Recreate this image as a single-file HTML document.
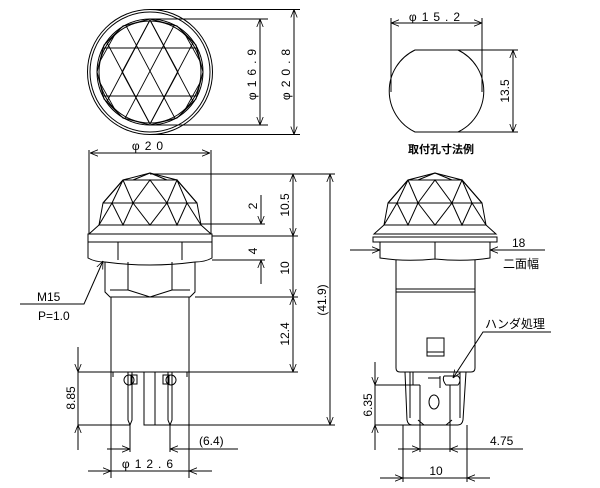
<!DOCTYPE html>
<html><head><meta charset="utf-8"><style>
html,body{margin:0;padding:0;background:#fff;width:600px;height:488px;overflow:hidden}
svg{display:block}
text{font-family:"Liberation Sans","Noto Sans CJK JP",sans-serif;fill:#000}
</style></head><body>
<svg width="600" height="488" viewBox="0 0 600 488" xmlns="http://www.w3.org/2000/svg">
<defs>
<clipPath id="c1"><polygon points="150,19 177,26 196,45 203,72 196,99 177,118 150,125 123,118 104,99 97,72 104,45 123,26"/></clipPath>
<marker id="a" viewBox="0 0 10 10" refX="10" refY="5" markerWidth="8" markerHeight="8" orient="auto-start-reverse" markerUnits="userSpaceOnUse"><path d="M0,1 L10,5 L0,9" fill="none" stroke="#000" stroke-width="1"/></marker>
</defs>
<g fill="none" stroke="#000" stroke-width="1">
<!-- top view -->
<circle cx="150" cy="72" r="62.5"/>
<circle cx="150" cy="72" r="60"/>
<circle cx="150" cy="72" r="53"/>
<circle cx="150" cy="72" r="51"/>
<polygon points="150,19 177,26 196,45 203,72 196,99 177,118 150,125 123,118 104,99 97,72 104,45 123,26"/>
<g clip-path="url(#c1)" stroke-width="0.9">
<line x1="90" y1="48" x2="210" y2="48"/><line x1="90" y1="96" x2="210" y2="96"/>
<line x1="150" y1="20" x2="178" y2="72"/><line x1="150" y1="20" x2="122" y2="72"/>
<line x1="122" y1="72" x2="150" y2="124"/><line x1="178" y1="72" x2="150" y2="124"/>
<line x1="123" y1="20" x2="94" y2="72"/><line x1="177" y1="20" x2="206" y2="72"/>
<line x1="94" y1="72" x2="123" y2="124"/><line x1="206" y1="72" x2="177" y2="124"/>
<line x1="123" y1="20" x2="178" y2="124"/><line x1="177" y1="20" x2="122" y2="124"/>
<line x1="95" y1="20" x2="150" y2="124"/><line x1="205" y1="20" x2="150" y2="124"/>
<line x1="150" y1="20" x2="95" y2="124"/><line x1="150" y1="20" x2="205" y2="124"/>
</g>
<line x1="150" y1="19" x2="268" y2="19"/><line x1="150" y1="125" x2="268" y2="125"/>
<line x1="150" y1="9.5" x2="300" y2="9.5"/><line x1="150" y1="134.5" x2="300" y2="134.5"/>
<line x1="260" y1="19" x2="260" y2="125" marker-start="url(#a)" marker-end="url(#a)"/>
<line x1="294" y1="9.5" x2="294" y2="134.5" marker-start="url(#a)" marker-end="url(#a)"/>
<!-- hole -->
<path d="M415,50 L458,50 A45.5,45.5 0 0 1 458,132 L415,132 A45.5,45.5 0 0 1 415,50 Z"/>
<line x1="391" y1="18" x2="391" y2="92"/><line x1="482" y1="18" x2="482" y2="92"/>
<line x1="391" y1="23" x2="482" y2="23" marker-start="url(#a)" marker-end="url(#a)"/>
<line x1="458" y1="50" x2="518" y2="50"/><line x1="458" y1="132" x2="518" y2="132"/>
<line x1="513" y1="50" x2="513" y2="132" marker-start="url(#a)" marker-end="url(#a)"/>
<!-- front view -->
<line x1="90" y1="153" x2="210" y2="153" marker-start="url(#a)" marker-end="url(#a)"/>
<line x1="89" y1="150" x2="89" y2="234"/><line x1="211" y1="150" x2="211" y2="234"/>
<path d="M150,173 L123,180 L103,203 L99,225 L201,225 L197,203 L177,180 Z"/>
<line x1="123" y1="180" x2="177" y2="180"/><line x1="103" y1="203" x2="197" y2="203"/>
<path d="M123,180 L112,203 L123,225 L133,203 L123,180 M133,203 L150,180 L167,203 L177,180 L187,203 L177,225 L167,203 L150,225 L133,203 M150,173 L133,180 M150,173 L167,180 M112,203 L99,225 M187,203 L201,225 M123,180 L103,203 M177,180 L197,203"/>
<path d="M99,225 L89,234 L211,234 L201,225"/>
<rect x="88" y="234" width="124" height="8"/>
<path d="M88,242 L88,258 Q95,262 105,262 M212,242 L212,258 Q205,262 195,262 M105,262 Q150,268 195,262 M118,242 L118,260 M182,242 L182,260"/>
<path d="M105,262 L105,292 L110,297 L190,297 L195,292 L195,262 M128,262 L128,290 L150,297 L172,290 L172,262 M128,290 L110,290 M172,290 L190,290"/>
<rect x="111" y="297" width="78" height="75"/>
<path d="M113,372 L113,377 M187,372 L187,377"/>
<!-- pins -->
<path d="M128,372 L128,420 L130,425 L132,420 L132,372 M168,372 L168,420 L170,425 L172,420 L172,372"/>
<path d="M144,372 L144,425 L155,425 L155,372"/>
<circle cx="129" cy="380" r="5"/><rect x="131" y="375" width="6" height="9"/>
<circle cx="171" cy="380" r="5"/><rect x="163" y="375" width="6" height="9"/>
<!-- front dims -->
<line x1="150" y1="174" x2="335" y2="174"/>
<line x1="201" y1="224" x2="265" y2="224"/>
<line x1="212" y1="236" x2="298" y2="236"/>
<line x1="212" y1="260" x2="265" y2="260"/>
<line x1="195" y1="297" x2="298" y2="297"/>
<line x1="78" y1="372" x2="298" y2="372"/>
<line x1="78" y1="425" x2="130" y2="425"/><line x1="155" y1="425" x2="335" y2="425"/>
<line x1="261" y1="195" x2="261" y2="224" marker-end="url(#a)"/>
<line x1="261" y1="260" x2="261" y2="284" marker-start="url(#a)"/>
<line x1="293" y1="174" x2="293" y2="236" marker-start="url(#a)" marker-end="url(#a)"/>
<line x1="293" y1="236" x2="293" y2="297" marker-end="url(#a)"/>
<line x1="293" y1="297" x2="293" y2="372" marker-start="url(#a)" marker-end="url(#a)"/>
<line x1="330" y1="174" x2="330" y2="425" marker-start="url(#a)" marker-end="url(#a)"/>
<line x1="78" y1="347" x2="78" y2="372" marker-end="url(#a)"/>
<line x1="78" y1="425" x2="78" y2="450" marker-start="url(#a)"/>
<line x1="78" y1="372" x2="78" y2="425"/>
<line x1="130" y1="425" x2="130" y2="452"/><line x1="170" y1="425" x2="170" y2="452"/>
<line x1="111" y1="372" x2="111" y2="478"/><line x1="189" y1="372" x2="189" y2="478"/>
<line x1="107" y1="449" x2="130" y2="449" marker-end="url(#a)"/>
<line x1="170" y1="449" x2="238" y2="449" marker-start="url(#a)"/>
<line x1="88" y1="471" x2="111" y2="471" marker-end="url(#a)"/>
<line x1="111" y1="471" x2="189" y2="471"/>
<line x1="189" y1="471" x2="212" y2="471" marker-start="url(#a)"/>
<path d="M20,304 L84,304 L103,261" marker-end="url(#a)"/>
<!-- right view -->
<path d="M435,173 L408,180 L388,203 L384,225 L486,225 L482,203 L462,180 Z"/>
<line x1="408" y1="180" x2="462" y2="180"/><line x1="388" y1="203" x2="482" y2="203"/>
<path d="M408,180 L397,203 L408,225 L418,203 L408,180 M418,203 L435,180 L452,203 L462,180 L472,203 L462,225 L452,203 L435,225 L418,203 M435,173 L418,180 M435,173 L452,180 M397,203 L384,225 M472,203 L486,225 M408,180 L388,203 M462,180 L482,203"/>
<path d="M384,225 L374,234 L496,234 L486,225"/>
<rect x="373" y="237" width="124" height="5"/>
<path d="M380,242 L380,258 Q405,262 435,259 Q465,262 490,258 L490,242 M435,242 L435,259"/>
<path d="M396,260 L396,368 Q396,372 400,372 L471,372 Q475,372 475,368 L475,260"/>
<line x1="396" y1="289" x2="475" y2="289"/><line x1="396" y1="292" x2="475" y2="292"/>
<rect x="427" y="338" width="17" height="18"/><line x1="427" y1="352" x2="444" y2="352"/>
<path d="M405,372 L407,420 Q408,425 412,425 L458,425 Q462,425 463,420 L466,372"/>
<path d="M410,372 L410,418 M460,372 L460,418 M413,372 L413,385 M420,385 L420,425 M450,385 L450,425 M418,420 L424,425 L446,425 L452,420"/>
<ellipse cx="434" cy="402" rx="5" ry="7"/>
<path d="M428,378 L440,378 M440,376 L440,388 M444,376 L458,376 Q462,380 458,385 L446,385 Q442,380 444,376"/>
<line x1="350" y1="250" x2="380" y2="250" marker-end="url(#a)"/>
<line x1="490" y1="250" x2="545" y2="250" marker-start="url(#a)"/>
<path d="M551,332 L483,332 L453,378" marker-end="url(#a)"/>
<line x1="375" y1="385" x2="420" y2="385"/><line x1="375" y1="425" x2="450" y2="425"/>
<line x1="375" y1="362" x2="375" y2="385" marker-end="url(#a)"/>
<line x1="375" y1="385" x2="375" y2="425"/>
<line x1="375" y1="425" x2="375" y2="450" marker-start="url(#a)"/>
<line x1="403" y1="425" x2="403" y2="482"/><line x1="467" y1="425" x2="467" y2="482"/>
<line x1="420" y1="425" x2="420" y2="452"/><line x1="450" y1="425" x2="450" y2="452"/>
<line x1="398" y1="449" x2="420" y2="449" marker-end="url(#a)"/>
<line x1="420" y1="449" x2="450" y2="449"/>
<line x1="450" y1="449" x2="523" y2="449" marker-start="url(#a)"/>
<line x1="380" y1="478" x2="403" y2="478" marker-end="url(#a)"/>
<line x1="403" y1="478" x2="467" y2="478"/>
<line x1="467" y1="478" x2="490" y2="478" marker-start="url(#a)"/>
</g>
<g font-size="12">
<text x="0" y="0" transform="translate(256,72) rotate(-90)" text-anchor="middle" letter-spacing="5">φ16.9</text>
<text x="0" y="0" transform="translate(290,72) rotate(-90)" text-anchor="middle" letter-spacing="5">φ20.8</text>
<text x="437" y="21" text-anchor="middle" letter-spacing="5">φ15.2</text>
<text x="0" y="0" transform="translate(509,91) rotate(-90)" text-anchor="middle">13.5</text>
<text x="441" y="153" text-anchor="middle" font-size="11" font-weight="bold">取付孔寸法例</text>
<text x="150" y="150" text-anchor="middle" letter-spacing="5">φ20</text>
<text x="0" y="0" transform="translate(257,206) rotate(-90)" text-anchor="middle">2</text>
<text x="0" y="0" transform="translate(257,251) rotate(-90)" text-anchor="middle">4</text>
<text x="0" y="0" transform="translate(289,205) rotate(-90)" text-anchor="middle">10.5</text>
<text x="0" y="0" transform="translate(289,268) rotate(-90)" text-anchor="middle">10</text>
<text x="0" y="0" transform="translate(289,334) rotate(-90)" text-anchor="middle">12.4</text>
<text x="0" y="0" transform="translate(326,300) rotate(-90)" text-anchor="middle">(41.9)</text>
<text x="0" y="0" transform="translate(75,398) rotate(-90)" text-anchor="middle">8.85</text>
<text x="37" y="301">M15</text>
<text x="38" y="320">P=1.0</text>
<text x="199" y="445">(6.4)</text>
<text x="150" y="468" text-anchor="middle" letter-spacing="5">φ12.6</text>
<text x="512" y="247">18</text>
<text x="503" y="268">二面幅</text>
<text x="485" y="328">ハンダ処理</text>
<text x="0" y="0" transform="translate(372,405) rotate(-90)" text-anchor="middle">6.35</text>
<text x="490" y="445">4.75</text>
<text x="436" y="475" text-anchor="middle">10</text>
</g>
</svg>
</body></html>
